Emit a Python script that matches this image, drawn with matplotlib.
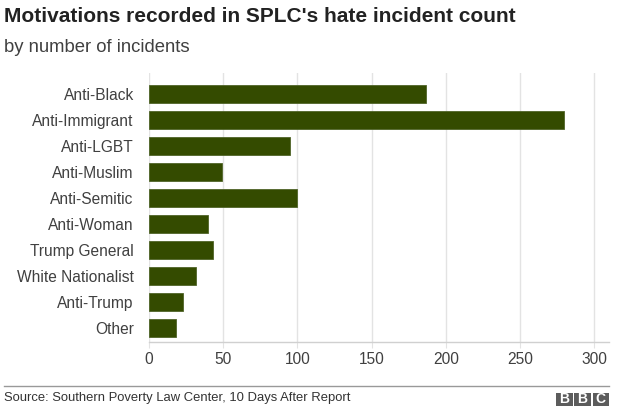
import numpy as np
import matplotlib as mpl
from matplotlib import pyplot as plt
from matplotlib.patches import Rectangle

# Data
categories = ['Anti-Black', 'Anti-Immigrant', 'Anti-LGBT', 'Anti-Muslim', 'Anti-Semitic',
              'Anti-Woman', 'Trump General', 'White Nationalist', 'Anti-Trump', 'Other']
counts = [187, 280, 95, 49, 100, 40, 43, 32, 23, 18]
xticks = [0, 50, 100, 150, 200, 250, 300]

plt.rcParams['font.family'] = ['Liberation Sans', 'DejaVu Sans']

W, H = 618, 417
fig = plt.figure(figsize=(W/100, H/100), dpi=100)

# Axes in pixel terms
l, r, t, b = 149, 609, 73, 342
ax = fig.add_axes([l/W, 1-b/H, (r-l)/W, (b-t)/H])

y = np.arange(len(categories))
ax.barh(y, counts, height=0.71, color='#344b00', edgecolor='#4f6428', linewidth=0.6, zorder=3)

ax.set_xlim(0, 310)
ax.set_ylim(len(categories)-1+0.54, -0.81)
ax.set_yticks(y)
ax.set_yticklabels(categories, fontsize=11.2, color='#404040')
ax.set_xticks(xticks)
ax.set_xticklabels([str(v) for v in xticks], fontsize=11.2, color='#404040')

ax.grid(axis='x', color='#e3e3e3', linewidth=1.0, zorder=0)
for s in ['top', 'right', 'left']:
	ax.spines[s].set_visible(False)
ax.spines['bottom'].set_color('#d0d0d0')
ax.spines['bottom'].set_linewidth(1.0)
ax.tick_params(axis='y', length=0, pad=11)
ax.tick_params(axis='x', length=4, color='#e3e3e3', pad=3)

# Titles
fig.text(4/W, 1-17/H, "Motivations recorded in SPLC's hate incident count",
	fontsize=15, fontweight='bold', color='#222222', va='center', ha='left')
fig.text(4/W, 1-48/H, 'by number of incidents', fontsize=13.3, color='#404040', va='center', ha='left')

# Footer
fig.add_artist(mpl.lines.Line2D([4/W, 609/W], [1-386/H, 1-386/H], color='#999999', linewidth=1.0))
fig.text(4/W, 1-398.5/H, 'Source: Southern Poverty Law Center, 10 Days After Report',
	fontsize=9.4, color='#333333', va='center', ha='left')

# BBC logo
bw, bh, gap = 16.5, 12.5, 1.8
x0, y0 = 556, 393
for i, ch in enumerate('BBC'):
	bx = x0 + i*(bw+gap)
	fig.add_artist(Rectangle((bx/W, 1-(y0+bh)/H), bw/W, bh/H, transform=fig.transFigure,
		facecolor='#5c5c5c', edgecolor='none'))
	fig.text((bx+bw/2)/W, 1-(y0+bh/2)/H, ch, fontsize=10, fontweight='bold', color='white',
		ha='center', va='center')

fig.savefig('out.png', dpi=100)
